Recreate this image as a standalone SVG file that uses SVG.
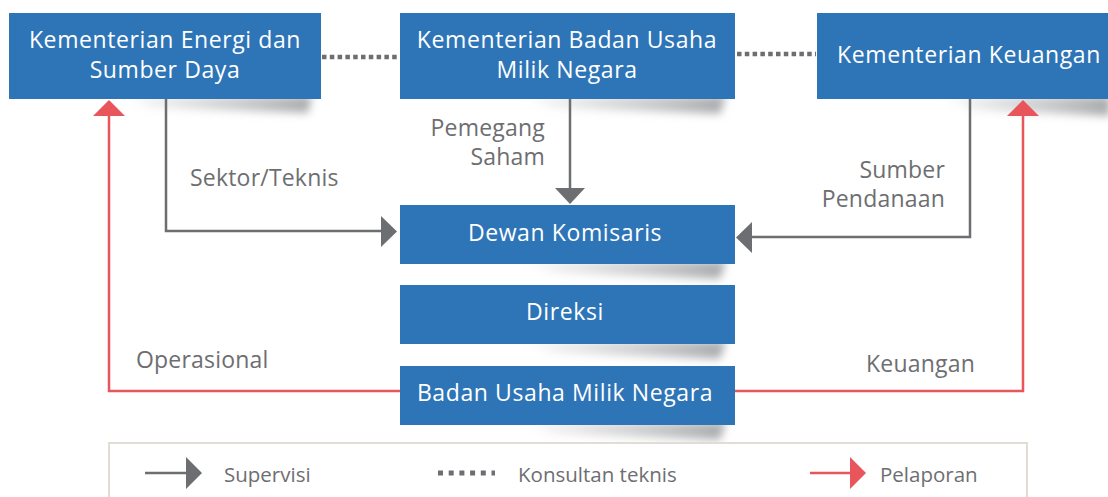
<svg xmlns="http://www.w3.org/2000/svg" width="1108" height="497" viewBox="0 0 1108 497">
<style>
.box{fill:#2e75b8}
.bt{font-family:"Open Sans","Liberation Sans",sans-serif;font-size:23px;letter-spacing:0.6px;fill:#ffffff;text-anchor:middle}
.lt{font-family:"Open Sans","Liberation Sans",sans-serif;font-size:23px;letter-spacing:0.2px;fill:#6d6e71}
.lg{font-family:"Open Sans","Liberation Sans",sans-serif;font-size:20.5px;fill:#6d6e71}
.gray{stroke:#6d6e71;stroke-width:2.5;fill:none}
.red{stroke:#e8555a;stroke-width:2.5;fill:none}
.dot{stroke:#6d6e71;stroke-width:4.3;stroke-dasharray:4.5 3.3;fill:none}
.dotl{stroke:#6d6e71;stroke-width:5;stroke-dasharray:5 5.7;fill:none}
.ga{fill:#6d6e71}
.ra{fill:#e8555a}
.sh{fill:url(#shg);filter:url(#blur)}
</style>
<defs>
<linearGradient id="shg" x1="0" y1="0" x2="1" y2="0">
<stop offset="0" stop-color="#b9babd" stop-opacity="0"/>
<stop offset="0.5" stop-color="#b9babd" stop-opacity="0.6"/>
<stop offset="1" stop-color="#a9aaad" stop-opacity="1"/>
</linearGradient>
<filter id="blur" x="-20%" y="-100%" width="140%" height="300%">
<feGaussianBlur stdDeviation="4"/>
</filter>
</defs>
<rect width="1108" height="497" fill="#ffffff"/>
<g id="shadows">
<polygon class="sh" points="120,96 312,96 308,113 150,108"/>
<polygon class="sh" points="520,96 726,96 720,114 550,108"/>
<polygon class="sh" points="940,96 1110,96 1110,116 970,110"/>
<polygon class="sh" points="520,261 726,261 720,279 550,273"/>
<polygon class="sh" points="520,341 726,341 720,359 550,353"/>
<polygon class="sh" points="520,422 726,422 720,440 550,434"/>
</g>
<g id="legend">
<rect x="109" y="443" width="918" height="60" fill="#ffffff" stroke="#e2ddd4" stroke-width="2"/>
<line class="gray" x1="145" y1="473" x2="188" y2="473"/>
<polygon class="ga" points="186,457 202,473 186,489"/>
<text class="lg" x="224" y="482">Supervisi</text>
<line class="dotl" x1="438" y1="473" x2="495" y2="473"/>
<text class="lg" x="518" y="482">Konsultan teknis</text>
<line class="red" x1="810" y1="473" x2="852" y2="473"/>
<polygon class="ra" points="850,457 866,473 850,489"/>
<text class="lg" x="880" y="482">Pelaporan</text>
</g>
<g id="connectors">
<line class="dot" x1="322" y1="57" x2="399" y2="57"/>
<line class="dot" x1="737" y1="54" x2="816" y2="54"/>
<polyline class="gray" points="166,99 166,231 384,231"/>
<polygon class="ga" points="381,216 397,231.5 381,247"/>
<line class="gray" x1="570" y1="99" x2="570" y2="190"/>
<polygon class="ga" points="555,188 585,188 570,204"/>
<polyline class="gray" points="970,99 970,237 750,237"/>
<polygon class="ga" points="752,222 736,237.5 752,253"/>
<polyline class="red" points="400,391 109,391 109,114"/>
<polygon class="ra" points="93,116 125,116 109,100"/>
<polyline class="red" points="735,391 1023,391 1023,114"/>
<polygon class="ra" points="1007,116 1039,116 1023,100"/>
</g>
<g id="labels">
<text class="lt" x="190" y="186">Sektor/Teknis</text>
<text class="lt" x="545" y="136" text-anchor="end">Pemegang</text>
<text class="lt" x="545" y="165" text-anchor="end">Saham</text>
<text class="lt" x="945" y="178" text-anchor="end">Sumber</text>
<text class="lt" x="945" y="207" text-anchor="end">Pendanaan</text>
<text class="lt" x="136" y="368">Operasional</text>
<text class="lt" x="866" y="372">Keuangan</text>
</g>
<g id="kesdm">
<rect class="box" x="9" y="13" width="312" height="86"/>
<text class="bt" x="165" y="48">Kementerian Energi dan</text>
<text class="bt" x="165" y="78">Sumber Daya</text>
</g>
<g id="kbumn">
<rect class="box" x="400" y="13" width="335" height="86"/>
<text class="bt" x="567" y="48">Kementerian Badan Usaha</text>
<text class="bt" x="567" y="78">Milik Negara</text>
</g>
<g id="kemenkeu">
<rect class="box" x="817" y="13" width="291" height="86"/>
<text class="bt" x="969" y="63">Kementerian Keuangan</text>
</g>
<g id="dewan">
<rect class="box" x="400" y="205" width="335" height="59"/>
<text class="bt" x="565" y="241">Dewan Komisaris</text>
</g>
<g id="direksi">
<rect class="box" x="400" y="285" width="335" height="59"/>
<text class="bt" x="565" y="320">Direksi</text>
</g>
<g id="bumn">
<rect class="box" x="400" y="366" width="335" height="59"/>
<text class="bt" x="565" y="401">Badan Usaha Milik Negara</text>
</g>
</svg>
